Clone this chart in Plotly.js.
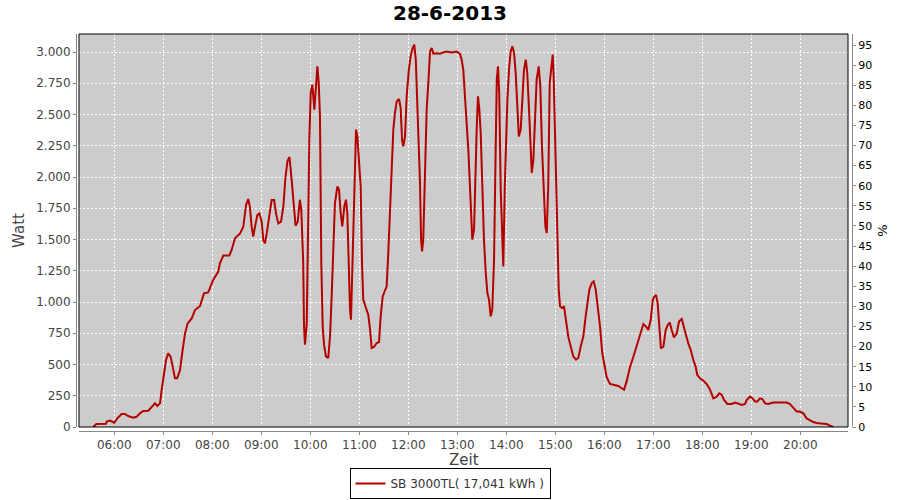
<!DOCTYPE html>
<html>
<head>
<meta charset="utf-8">
<script src="https://cdn.plot.ly/plotly-3.0.1.min.js"></script>
<style>
  html, body { margin: 0; padding: 0; background: #ffffff; }
  #chart { width: 900px; height: 500px; }
</style>
</head>
<body>
<div id="chart"></div>
<script>
// ---- data ----
const chartTitle = '28-6-2013';
const seriesName = 'SB 3000TL( 17,041 kWh )';
const xTitle = 'Zeit';
const day = '2013-06-28';

const times = [
 '05:34:20','05:38:00','05:50:00','05:50:40','05:54:40','06:00:00','06:03:40','06:09:00','06:13:00','06:17:00',
 '06:23:00','06:27:20','06:31:30','06:35:30','06:41:40','06:45:50','06:49:50','06:52:40','06:56:00','06:58:00',
 '07:00:50','07:03:20','07:06:00','07:09:00','07:11:30','07:14:20','07:17:00','07:20:30','07:23:40','07:26:40',
 '07:29:50','07:34:50','07:38:50','07:45:00','07:49:50','07:55:00','08:01:00','08:07:20','08:09:20','08:13:30',
 '08:20:50','08:23:40','08:27:50','08:34:00','08:38:00','08:41:20','08:44:00','08:46:00','08:48:10','08:50:10',
 '08:52:20','08:55:10','08:57:40','09:00:30','09:02:30','09:04:30','09:06:40','09:09:50','09:12:40','09:15:40',
 '09:18:00','09:20:50','09:24:10','09:27:00','09:29:30','09:32:00','09:34:30','09:37:10','09:40:00','09:42:00',
 '09:44:40','09:47:10','09:49:00','09:51:20','09:52:20','09:53:30','09:55:40','09:57:40','09:58:50','10:00:30',
 '10:02:30','10:05:00','10:07:00','10:08:40','10:10:20','10:11:50','10:13:30','10:15:10','10:16:50','10:19:10',
 '10:22:00','10:24:10','10:26:10','10:28:10','10:30:10','10:33:10','10:35:10','10:37:10','10:39:10','10:41:40',
 '10:43:40','10:45:20','10:47:00','10:48:40','10:49:50','10:51:20','10:53:30','10:56:00','10:57:40','10:59:40',
 '11:01:40','11:03:20','11:04:50','11:08:10','11:11:00','11:13:10','11:15:10','11:18:00','11:21:20','11:24:10',
 '11:26:10','11:28:40','11:31:10','11:33:30','11:35:30','11:36:40','11:38:20','11:40:00','11:41:40','11:43:40',
 '11:45:50','11:48:40','11:50:40','11:52:20','11:53:50','11:56:00','11:58:00','12:00:30','12:02:50','12:05:20',
 '12:07:20','12:09:10','12:11:00','12:13:10','12:14:20','12:15:40','12:16:50','12:18:20','12:20:30','12:22:30',
 '12:24:30','12:26:40','12:28:40','12:30:40','12:34:50','12:38:50','12:42:50','12:47:00','12:53:10','12:59:20',
 '13:03:20','13:05:20','13:07:20','13:09:20','13:11:30','13:13:30','13:15:40','13:16:50','13:18:20','13:20:30',
 '13:21:40','13:23:50','13:25:20','13:27:00','13:28:40','13:30:40','13:32:40','13:34:50','13:36:50','13:38:50',
 '13:40:50','13:42:50','13:45:00','13:46:40','13:48:20','13:49:50','13:51:20','13:53:10','13:54:50','13:56:20',
 '13:58:10','13:59:40','14:01:20','14:03:20','14:05:20','14:07:30','14:09:30','14:11:30','14:13:30','14:15:20',
 '14:17:40','14:19:40','14:21:40','14:23:50','14:25:40','14:27:50','14:29:30','14:31:10','14:33:10','14:35:10',
 '14:37:10','14:39:40','14:41:40','14:43:40','14:45:50','14:47:50','14:49:30','14:51:20','14:53:10','14:55:40',
 '14:56:50','14:58:00','14:59:20','15:00:50','15:02:30','15:04:10','15:05:50','15:08:10','15:10:40','15:13:10',
 '15:15:50','15:18:50','15:22:00','15:25:20','15:28:10','15:31:10','15:34:20','15:37:10','15:39:40','15:41:40',
 '15:44:40','15:47:00','15:49:30','15:51:50','15:54:40','15:57:30','16:00:00','16:02:50','16:07:00','16:13:10',
 '16:17:10','16:21:20','16:24:10','16:27:20','16:31:30','16:35:30','16:39:40','16:43:40','16:47:50','16:51:10',
 '16:53:50','16:56:50','16:59:20','17:01:10','17:03:20','17:05:20','17:07:20','17:09:20','17:12:20','17:15:10',
 '17:17:40','17:20:10','17:22:30','17:25:20','17:28:40','17:31:30','17:34:50','17:37:40','17:40:00','17:42:50',
 '17:45:50','17:49:00','17:51:50','17:53:50','17:57:10','18:01:10','18:05:20','18:09:20','18:13:30','18:17:40',
 '18:20:50','18:23:50','18:26:40','18:30:40','18:36:00','18:40:10','18:44:10','18:48:20','18:52:20','18:54:20',
 '18:58:20','19:01:40','19:04:30','19:07:20','19:10:40','19:13:30','19:16:50','19:20:50','19:27:00','19:35:10',
 '19:43:20','19:47:20','19:51:20','19:55:40','19:59:40','20:03:40','20:07:50','20:11:50','20:15:50','20:22:00',
 '20:28:10','20:32:20','20:36:20','20:40:20'
];

const watt = [
 0,24,26,43,51,35,69,104,104,88,
 75,82,109,128,130,157,189,168,189,296,
 429,536,589,563,483,389,389,456,616,749,
 829,869,936,968,1069,1077,1176,1243,1309,1371,
 1371,1416,1509,1549,1603,1776,1824,1763,1603,1523,
 1603,1696,1709,1643,1496,1469,1549,1709,1816,1816,
 1709,1629,1643,1763,1990,2125,2160,1978,1785,1610,
 1645,1818,1739,1312,805,659,832,1819,2299,2672,
 2739,2539,2779,2885,2752,2485,1312,805,659,565,
 552,725,1045,1472,1792,1925,1900,1712,1605,1765,
 1819,1712,1259,939,859,1232,1739,2379,2325,2139,
 1925,1312,1019,952,899,780,632,640,672,680,
 885,1045,1093,1125,1392,1579,1792,2005,2379,2512,
 2605,2624,2552,2299,2245,2325,2645,2845,2965,3032,
 3059,2939,2619,2272,1952,1499,1405,1499,2085,2539,
 2752,3005,3032,2987,2990,2987,2997,3003,2997,3003,
 2985,2939,2859,2672,2405,2219,1899,1739,1499,1579,
 1952,2405,2645,2539,2352,1872,1499,1232,1072,1019,
 885,939,1339,2085,2779,2885,2672,1899,1499,1285,
 1925,2352,2619,2859,3005,3045,2992,2832,2485,2325,
 2379,2619,2859,2939,2832,2539,2192,2032,2139,2459,
 2779,2885,2725,2245,1819,1605,1552,1925,2752,2939,
 2979,2805,2459,1925,1499,1099,965,952,965,859,
 725,645,565,539,552,645,725,885,1019,1099,
 1152,1165,1099,965,810,592,485,400,345,335,
 328,310,298,365,480,560,650,740,824,803,
 776,856,1016,1043,1056,989,803,629,643,776,
 816,835,776,717,749,843,864,803,736,669,
 616,536,483,416,389,371,344,301,229,243,
 269,256,216,184,184,195,184,176,184,216,
 243,229,203,203,229,224,189,184,195,195,
 195,184,157,123,123,109,69,51,40,29,
 27,24,11,0
];

const wattTicks = [0,250,500,750,1000,1250,1500,1750,2000,2250,2500,2750,3000];
const percentTicks = [0,5,10,15,20,25,30,35,40,45,50,55,60,65,70,75,80,85,90,95];
const xRange = ['05:16:48','20:58:24'];
const wattRange = [0, 3144];
const percentRange = [0, 97.74];

// ---- chart ----
const xs = times.map(t => day + ' ' + t);
const font = 'DejaVu Sans, Verdana, sans-serif';

const traces = [
  {
    x: xs, y: watt, type: 'scatter', mode: 'lines', name: seriesName,
    line: { color: '#b50000', width: 2 }
  },
  { x: [], y: [], type: 'scatter', mode: 'lines', yaxis: 'y2', showlegend: false, hoverinfo: 'skip' }
];

const layout = {
  width: 900, height: 500,
  paper_bgcolor: '#ffffff',
  plot_bgcolor: '#cccccc',
  separators: ',.',
  margin: { l: 76, r: 48, t: 34, b: 69, pad: 0 },
  font: { family: font, size: 12, color: '#444444' },
  title: {
    text: chartTitle, xref: 'container', x: 0.5, xanchor: 'center',
    yref: 'container', y: 0.975, yanchor: 'middle',
    font: { family: font, size: 20, color: '#000000', weight: 'bold' }
  },
  showlegend: true,
  legend: {
    xref: 'container', yref: 'container', x: 0.5, xanchor: 'center', y: 0.002, yanchor: 'bottom',
    orientation: 'h', bordercolor: '#000000', borderwidth: 1, bgcolor: '#ffffff',
    font: { family: font, size: 12, color: '#333333' }
  },
  xaxis: {
    type: 'date',
    domain: [0.00387, 0.99485],
    anchor: 'free', position: 0,
    range: xRange.map(t => day + ' ' + t),
    tick0: day + ' 06:00', dtick: 3600000, tickformat: '%H:%M',
    showgrid: true, gridcolor: '#ffffff', griddash: '2px,2px', gridwidth: 1,
    zeroline: false,
    showline: true, linecolor: '#888888', linewidth: 1,
    ticks: 'outside', ticklen: 3, tickcolor: '#888888',
    tickfont: { family: font, size: 12, color: '#444444' }
  },
  yaxis: {
    domain: [0.01008, 1],
    anchor: 'free', position: 0,
    range: wattRange,
    tickvals: wattTicks, tickformat: ',d',
    showgrid: true, gridcolor: '#ffffff', griddash: '2px,2px', gridwidth: 1,
    zeroline: false,
    showline: true, linecolor: '#888888', linewidth: 1,
    ticks: 'outside', ticklen: 3, tickcolor: '#888888',
    tickfont: { family: font, size: 12, color: '#444444' },
    title: { text: 'Watt', font: { family: font, size: 15, color: '#444444' }, standoff: 6 }
  },
  yaxis2: {
    overlaying: 'y', side: 'right', anchor: 'free', position: 1,
    range: percentRange,
    tickvals: percentTicks,
    showgrid: false, zeroline: false,
    showline: true, linecolor: '#888888', linewidth: 1,
    ticks: 'outside', ticklen: 3, tickcolor: '#888888',
    tickfont: { family: font, size: 11, color: '#000000' },
    title: { text: '%', font: { family: font, size: 13, color: '#000000' }, standoff: 6 }
  },
  annotations: [
    { text: xTitle, xref: 'x domain', x: 0.5, xanchor: 'center',
      yref: 'paper', y: -0.073, yanchor: 'middle', showarrow: false,
      font: { family: font, size: 15, color: '#444444' } }
  ],
  shapes: [
    { type: 'rect', xref: 'x domain', yref: 'y domain', x0: 0, x1: 1, y0: 0, y1: 1,
      line: { color: '#000000', width: 1 }, fillcolor: 'rgba(0,0,0,0)', layer: 'above' }
  ]
};

Plotly.newPlot('chart', traces, layout, { staticPlot: true, displayModeBar: false });
</script>
</body>
</html>
